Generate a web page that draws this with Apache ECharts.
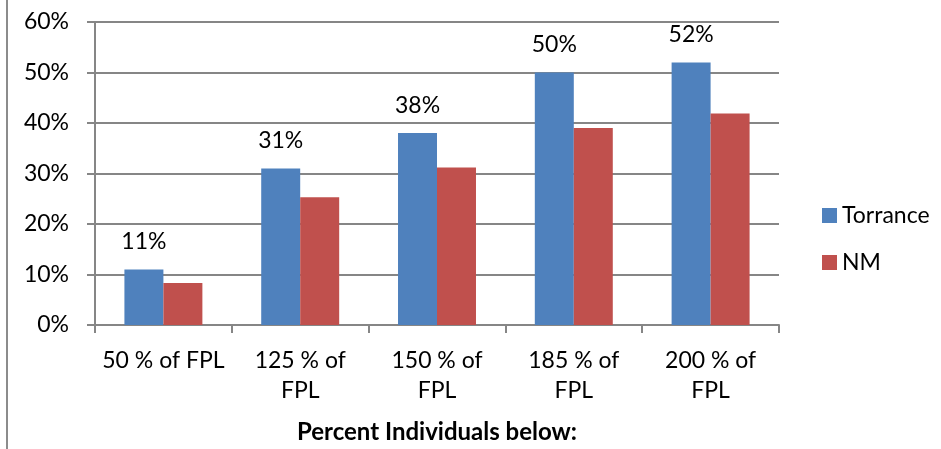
<!DOCTYPE html>
<html>
<head>
<meta charset="utf-8">
<script src="https://cdn.jsdelivr.net/npm/echarts@6/dist/echarts.min.js"></script>
<style>
  html, body { margin: 0; padding: 0; background: #fff; }
  #chart { width: 941px; height: 449px; }
</style>
</head>
<body>
<div id="chart"></div>
<script>
// Share of individuals below each poverty threshold (percent of FPL)
const categories = ['50 % of FPL', '125 % of\nFPL', '150 % of\nFPL', '185 % of\nFPL', '200 % of\nFPL'];
const torrance = [11, 31, 38, 50, 52];
const nm = [8.3, 25.3, 31.2, 39.0, 41.9];
const yTicks = [0, 10, 20, 30, 40, 50, 60];

const FONT = 'Lato, "Open Sans", sans-serif';
const GRID_COLOR = '#868686';
const FS = 23;

const chart = echarts.init(document.getElementById('chart'));
chart.setOption({
  animation: false,
  textStyle: { fontFamily: FONT },
  grid: { left: 95, right: 162, top: 22, bottom: 119, containLabel: false },
  legend: {
    orient: 'vertical',
    left: 822,
    top: 204,
    padding: 0,
    itemWidth: 15,
    itemHeight: 15,
    itemGap: 24,
    icon: 'rect',
    textStyle: { fontSize: FS, color: '#000', fontFamily: FONT },
    data: ['Torrance', 'NM']
  },
  xAxis: {
    type: 'category',
    data: categories,
    name: 'Percent Individuals below:',
    nameLocation: 'middle',
    nameGap: 95,
    nameTextStyle: { fontSize: 24, fontWeight: 'bold', color: '#000', fontFamily: FONT },
    axisLine: { lineStyle: { color: GRID_COLOR, width: 2 } },
    axisTick: { show: true, length: 8, lineStyle: { color: GRID_COLOR, width: 2 } },
    axisLabel: {
      interval: 0, hideOverlap: false,
      fontSize: FS, color: '#000', lineHeight: 30, margin: 21, fontFamily: FONT
    }
  },
  yAxis: {
    type: 'value',
    min: yTicks[0],
    max: yTicks[yTicks.length - 1],
    interval: 10,
    axisLine: { show: true, lineStyle: { color: GRID_COLOR, width: 2 } },
    axisTick: { show: true, length: 8, lineStyle: { color: GRID_COLOR, width: 2 } },
    splitLine: { lineStyle: { color: GRID_COLOR, width: 2 } },
    axisLabel: {
      fontSize: FS, color: '#000', margin: 26, fontFamily: FONT,
      formatter: v => v + '%'
    }
  },
  series: [
    {
      name: 'Torrance',
      type: 'bar',
      data: torrance,
      barGap: '0%',
      barCategoryGap: '43%',
      itemStyle: { color: '#4F81BD' },
      label: {
        show: true, position: 'top', distance: 16,
        fontSize: FS, color: '#000', fontFamily: FONT,
        formatter: p => p.value + '%'
      }
    },
    {
      name: 'NM',
      type: 'bar',
      data: nm,
      itemStyle: { color: '#C0504D' }
    }
  ],
  graphic: [
    {
      type: 'rect',
      shape: { x: 6, y: 0, width: 2, height: 449 },
      style: { fill: '#8c8c8c' },
      silent: true
    }
  ]
});
</script>
</body>
</html>
